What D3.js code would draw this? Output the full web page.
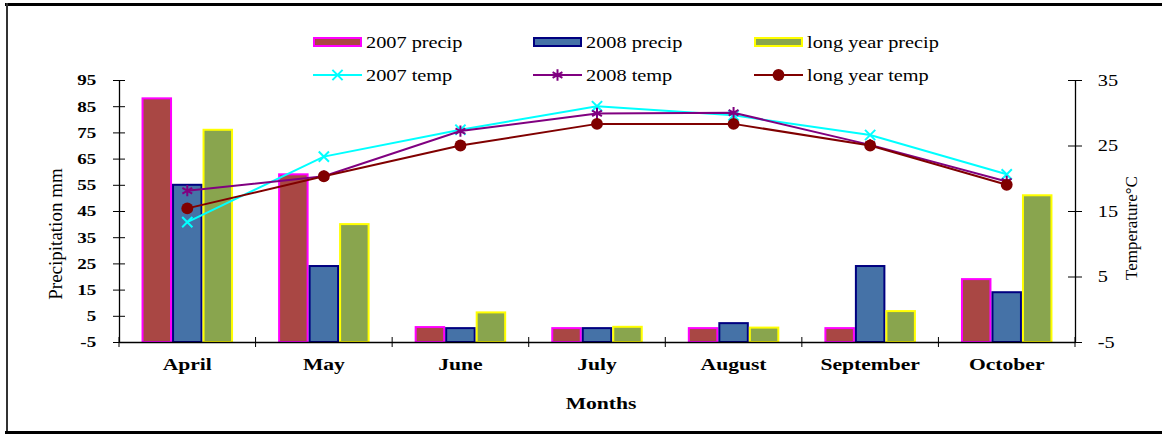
<!DOCTYPE html>
<html>
<head>
<meta charset="utf-8">
<script src="https://cdn.jsdelivr.net/npm/d3@7"></script>
<style>
  body { margin: 0; background: #fff; }
  text { font-family: "Liberation Serif", "Times New Roman", serif; fill: #000; }
</style>
</head>
<body>
<div id="plot"></div>
<script>
// chart data
const months = ["April", "May", "June", "July", "August", "September", "October"];
const precip2007 = [88, 59, 0.7, 0.3, 0.3, 0.3, 19];
const precip2008 = [55, 24, 0.3, 0.3, 2.2, 24, 14];
const precipLong = [76, 40, 6.3, 0.8, 0.5, 6.8, 51];
const temp2007 = [13.3, 23.3, 27.4, 31, 29.6, 26.6, 20.6];
const temp2008 = [18.1, 20.3, 27.2, 29.9, 30, 25.1, 19.5];
const tempLong = [15.4, 20.3, 25, 28.3, 28.3, 25, 19];
const precipTicks = [-5, 5, 15, 25, 35, 45, 55, 65, 75, 85, 95];
const tempTicks = [-5, 5, 15, 25, 35];

const width = 1162, height = 434;
const margin = {top: 80, right: 87, bottom: 92, left: 119};
const innerW = width - margin.left - margin.right;
const innerH = height - margin.top - margin.bottom;
const stretch = "scale(1.27,1)"; // text in the picture is drawn wide

const svg = d3.select("#plot").append("svg")
  .attr("width", width)
  .attr("height", height);

// frame round the picture
svg.append("rect").attr("x", 5).attr("y", 3).attr("width", width - 5).attr("height", 3).attr("fill", "#000");
svg.append("rect").attr("x", 6).attr("y", 3).attr("width", 2).attr("height", height - 3).attr("fill", "#333");
svg.append("rect").attr("x", 5).attr("y", height - 3).attr("width", width - 5).attr("height", 3).attr("fill", "#000");

const g = svg.append("g")
  .attr("transform", "translate(" + margin.left + "," + margin.top + ")");

// scales
const x0 = d3.scaleBand().domain(months).range([0, innerW]).paddingInner(0.33).paddingOuter(0.165);
const series = ["p2007", "p2008", "pLong"];
const x1 = d3.scaleBand().domain(series).range([0, x0.bandwidth()]);
const y = d3.scaleLinear().domain([-5, 95]).range([innerH, 0]);
const yT = d3.scaleLinear().domain([-5, 35]).range([innerH, 0]);

// bars
const barStyle = {
  p2007: {fill: "#A94744", stroke: "#FF00FF", values: precip2007},
  p2008: {fill: "#4572A7", stroke: "#000080", values: precip2008},
  pLong: {fill: "#89A54E", stroke: "#FFFF00", values: precipLong}
};
series.forEach(function(s) {
  g.selectAll(".bar-" + s)
    .data(months)
    .enter()
    .append("rect")
    .attr("x", function(d) { return x0(d) + x1(s) + 1; })
    .attr("y", function(d, i) { return y(barStyle[s].values[i]); })
    .attr("width", x1.bandwidth() - 2)
    .attr("height", function(d, i) { return y(-5) - y(barStyle[s].values[i]); })
    .attr("fill", barStyle[s].fill)
    .attr("stroke", barStyle[s].stroke)
    .attr("stroke-width", 2);
});

// axes
const plain = function(d) { return String(d); };   // hyphen minus like the original

const xAxis = g.append("g")
  .attr("transform", "translate(0," + innerH + ")")
  .call(d3.axisBottom(x0).tickSize(0).tickPadding(16));
xAxis.select(".domain").attr("stroke", "#000").attr("stroke-width", 1.3);
xAxis.selectAll("text").attr("font-size", 17).attr("font-weight", "bold")
  .style("font-family", "Liberation Serif").attr("transform", stretch);
// tick marks between groups
const step = x0.step();
g.selectAll(".xtick")
  .data(d3.range(months.length + 1))
  .enter()
  .append("line")
  .attr("x1", function(d) { return d * step; })
  .attr("x2", function(d) { return d * step; })
  .attr("y1", innerH - 5)
  .attr("y2", innerH + 5)
  .attr("stroke", "#000");

const yAxis = g.append("g")
  .call(d3.axisLeft(y).tickValues(precipTicks).tickFormat(plain).tickSizeInner(6).tickSizeOuter(0).tickPadding(12));
yAxis.select(".domain").attr("stroke", "#000").attr("stroke-width", 1.3);
yAxis.selectAll(".tick line").attr("x2", 6).attr("x1", -6);
yAxis.selectAll("text").attr("font-size", 15).attr("font-weight", "bold")
  .style("font-family", "Liberation Serif").attr("transform", stretch);

const yAxisR = g.append("g")
  .attr("transform", "translate(" + innerW + ",0)")
  .call(d3.axisRight(yT).tickValues(tempTicks).tickFormat(plain).tickSizeOuter(0).tickPadding(12));
yAxisR.select(".domain").attr("stroke", "#000").attr("stroke-width", 1.3);
yAxisR.selectAll(".tick line").attr("x1", -7).attr("x2", 7);
yAxisR.selectAll("text").attr("font-size", 16).style("font-family", "Liberation Serif")
  .attr("transform", stretch);

// axis titles
g.append("text")
  .attr("transform", "translate(-57," + (innerH / 2 + 23) + ") rotate(-90)")
  .attr("text-anchor", "middle")
  .attr("font-size", 19)
  .text("Precipitation mm");
g.append("text")
  .attr("transform", "translate(" + (innerW + 62) + "," + (innerH / 2 + 17) + ") rotate(-90)")
  .attr("text-anchor", "middle")
  .attr("font-size", 17)
  .text("Temperature°C");
g.append("text")
  .attr("transform", "translate(" + (innerW / 2 + 4) + "," + (innerH + 67) + ") " + stretch)
  .attr("text-anchor", "middle")
  .attr("font-size", 17)
  .attr("font-weight", "bold")
  .text("Months");

// temperature lines
const cx = function(i) { return x0(months[i]) + x0.bandwidth() / 2; };
const line = d3.line().x(function(d, i) { return cx(i); }).y(function(d) { return yT(d); });

const lineSeries = [
  {values: temp2007, color: "#00FFFF", marker: "x"},
  {values: temp2008, color: "#800080", marker: "star"},
  {values: tempLong, color: "#800000", marker: "circle"}
];

const markerSymbol = {
  x: d3.symbol().type(d3.symbolX).size(70),
  star: d3.symbol().type(d3.symbolAsterisk).size(90),
  circle: d3.symbol().type(d3.symbolCircle).size(110)
};

lineSeries.forEach(function(s) {
  g.append("path")
    .datum(s.values)
    .attr("d", line)
    .attr("fill", "none")
    .attr("stroke", s.color)
    .attr("stroke-width", 2);
  g.selectAll(".m-" + s.marker)
    .data(s.values)
    .enter()
    .append("path")
    .attr("transform", function(d, i) { return "translate(" + cx(i) + "," + yT(d) + ")"; })
    .attr("d", markerSymbol[s.marker])
    .attr("fill", s.marker === "circle" ? s.color : "none")
    .attr("stroke", s.color)
    .attr("stroke-width", s.marker === "circle" ? 0 : 2);
});

// legend
const legendItems = [
  {label: "2007 precip", kind: "bar", fill: "#A94744", stroke: "#FF00FF", x: 313, y: 42},
  {label: "2008 precip", kind: "bar", fill: "#4572A7", stroke: "#000080", x: 533, y: 42},
  {label: "long year precip", kind: "bar", fill: "#89A54E", stroke: "#FFFF00", x: 754, y: 42},
  {label: "2007 temp", kind: "line", color: "#00FFFF", marker: "x", x: 313, y: 75},
  {label: "2008 temp", kind: "line", color: "#800080", marker: "star", x: 533, y: 75},
  {label: "long year temp", kind: "line", color: "#800000", marker: "circle", x: 754, y: 75}
];
const legend = svg.append("g");
legendItems.forEach(function(d) {
  const item = legend.append("g").attr("transform", "translate(" + d.x + "," + d.y + ")");
  if (d.kind === "bar") {
    item.append("rect").attr("x", 1).attr("y", -4).attr("width", 47).attr("height", 8)
      .attr("fill", d.fill).attr("stroke", d.stroke).attr("stroke-width", 2);
  } else {
    item.append("line").attr("x1", 0).attr("x2", 49).attr("y1", 0).attr("y2", 0)
      .attr("stroke", d.color).attr("stroke-width", 2);
    item.append("path").attr("transform", "translate(24.5,0)")
      .attr("d", markerSymbol[d.marker])
      .attr("fill", d.marker === "circle" ? d.color : "none")
      .attr("stroke", d.color)
      .attr("stroke-width", d.marker === "circle" ? 0 : 2);
  }
  item.append("text").attr("transform", "translate(53,5.5) " + stretch)
    .attr("font-size", 16).text(d.label);
});
</script>
</body>
</html>
